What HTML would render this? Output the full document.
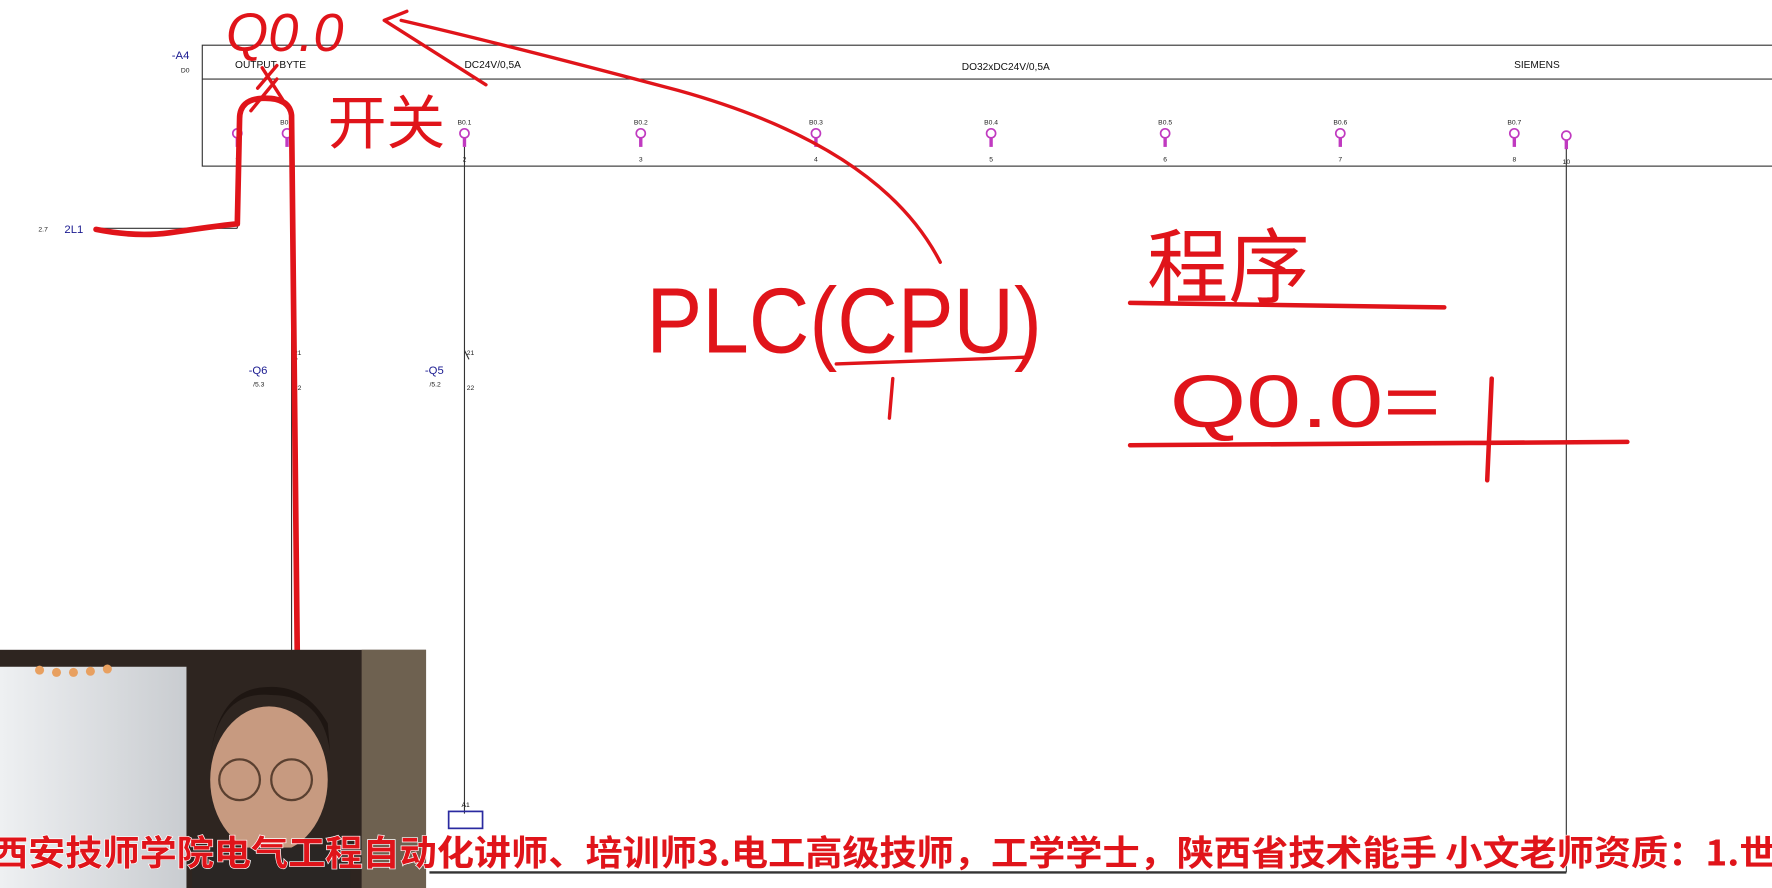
<!DOCTYPE html>
<html><head><meta charset="utf-8"><style>
html,body{margin:0;padding:0;background:#fff;overflow:hidden;width:1772px;height:888px}
#s{position:absolute;left:0;top:0;width:1568px;height:786px;transform:scale(1.1301);transform-origin:0 0}
svg{position:absolute;left:0;top:0}
</style></head><body><div id="s">
<svg width="1568" height="786" viewBox="0 0 1568 786" font-family="Liberation Sans, sans-serif">
<g stroke="#333" stroke-width="1" fill="none">
<rect x="179" y="40" width="1400" height="107"/>
<line x1="179" y1="70" x2="1568" y2="70"/>
<line x1="411" y1="130" x2="411" y2="720"/>
<line x1="1386" y1="130" x2="1386" y2="772"/>
<line x1="258" y1="130" x2="258" y2="720"/>
<line x1="85" y1="202" x2="210" y2="202"/>
<line x1="210" y1="130" x2="210" y2="202"/>
<line x1="380" y1="772" x2="1386" y2="772" stroke-width="2"/>
</g>
<rect x="397" y="718" width="30" height="15" fill="none" stroke="#2a2aa0" stroke-width="1.5"/>
<text x="412" y="714" font-size="6" text-anchor="middle">A1</text>
<g fill="#1a1a90" font-size="10"><text x="152" y="52">-A4</text><text x="57" y="206">2L1</text>
<text x="220" y="331">-Q6</text><text x="376" y="331">-Q5</text></g>
<g font-size="6" fill="#222"><text x="160" y="64">D0</text><text x="34" y="205">2.7</text>
<text x="224" y="342">/5.3</text><text x="380" y="342">/5.2</text>
<text x="413" y="314">21</text><text x="413" y="345">22</text>
<text x="260" y="314">21</text><text x="260" y="345">22</text></g>
<g font-size="9" fill="#111"><text x="208" y="60">OUTPUT BYTE</text><text x="411" y="60">DC24V/0,5A</text>
<text x="890" y="62" text-anchor="middle">DO32xDC24V/0,5A</text><text x="1360" y="60" text-anchor="middle">SIEMENS</text></g>
<g stroke="#333" fill="none"><path d="M258 310 l5 8 M411 310 l4 8"/></g>
<g font-size="6" fill="#222" text-anchor="middle">
<g transform="translate(210,0)"><circle cy="118" r="4" fill="none" stroke="#c03ac0" stroke-width="1.5"/><rect x="-1.5" y="122" width="3" height="8" fill="#c03ac0"/><text y="143">9</text></g>
<g transform="translate(254,0)"><circle cy="118" r="4" fill="none" stroke="#c03ac0" stroke-width="1.5"/><rect x="-1.5" y="122" width="3" height="8" fill="#c03ac0"/><text y="110">B0.0</text></g>
<g transform="translate(411,0)"><circle cy="118" r="4" fill="none" stroke="#c03ac0" stroke-width="1.5"/><rect x="-1.5" y="122" width="3" height="8" fill="#c03ac0"/><text y="110">B0.1</text><text y="143">2</text></g>
<g transform="translate(567,0)"><circle cy="118" r="4" fill="none" stroke="#c03ac0" stroke-width="1.5"/><rect x="-1.5" y="122" width="3" height="8" fill="#c03ac0"/><text y="110">B0.2</text><text y="143">3</text></g>
<g transform="translate(722,0)"><circle cy="118" r="4" fill="none" stroke="#c03ac0" stroke-width="1.5"/><rect x="-1.5" y="122" width="3" height="8" fill="#c03ac0"/><text y="110">B0.3</text><text y="143">4</text></g>
<g transform="translate(877,0)"><circle cy="118" r="4" fill="none" stroke="#c03ac0" stroke-width="1.5"/><rect x="-1.5" y="122" width="3" height="8" fill="#c03ac0"/><text y="110">B0.4</text><text y="143">5</text></g>
<g transform="translate(1031,0)"><circle cy="118" r="4" fill="none" stroke="#c03ac0" stroke-width="1.5"/><rect x="-1.5" y="122" width="3" height="8" fill="#c03ac0"/><text y="110">B0.5</text><text y="143">6</text></g>
<g transform="translate(1186,0)"><circle cy="118" r="4" fill="none" stroke="#c03ac0" stroke-width="1.5"/><rect x="-1.5" y="122" width="3" height="8" fill="#c03ac0"/><text y="110">B0.6</text><text y="143">7</text></g>
<g transform="translate(1340,0)"><circle cy="118" r="4" fill="none" stroke="#c03ac0" stroke-width="1.5"/><rect x="-1.5" y="122" width="3" height="8" fill="#c03ac0"/><text y="110">B0.7</text><text y="143">8</text></g>
<g transform="translate(1386,0)"><circle cy="120" r="4" fill="none" stroke="#c03ac0" stroke-width="1.5"/><rect x="-1.5" y="124" width="3" height="8" fill="#c03ac0"/><text y="145">10</text></g>
</g>
<g stroke="#e0141a" fill="none" stroke-linecap="round" stroke-linejoin="round">
<path d="M85 203 Q120 210 150 206 Q190 200 210 198 L212 105 Q212 88 232 87 Q256 86 258 102 L263 575" stroke-width="5"/>
<path d="M228 78 L245 58 M232 60 L250 88 M222 98 L245 70" stroke-width="3"/>
<path d="M832 232 Q780 130 600 80 Q450 40 355 18 M360 10 L340 18 L430 75" stroke-width="3"/>
<path d="M740 322 L910 316 M790 335 L787 370" stroke-width="3"/>
<path d="M1000 268 L1278 272" stroke-width="4"/>
<path d="M1000 394 L1440 391 M1320 335 L1316 425" stroke-width="4"/>
</g>
<g fill="#e0141a" font-family="Liberation Sans, 'WenQuanYi Zen Hei', sans-serif" font-weight="normal">
<text x="200" y="45" font-size="48" font-style="italic">Q0.0</text>
<text x="290" y="127" font-size="52">开关</text>
<text x="572" y="312" font-size="82" textLength="350" lengthAdjust="spacingAndGlyphs">PLC(CPU)</text>
<text x="1015" y="262" font-size="72">程序</text>
<text x="1035" y="378" font-size="66" textLength="240" lengthAdjust="spacingAndGlyphs">Q0.0=</text>
</g>
<defs><linearGradient id="w" x1="0" x2="1"><stop offset="0" stop-color="#eef0f2"/><stop offset="1" stop-color="#c9ccd0"/></linearGradient></defs>
<rect x="0" y="575" width="377" height="211" fill="#2e2520"/>
<rect x="320" y="575" width="57" height="211" fill="#6e6150"/>
<rect x="0" y="590" width="165" height="196" fill="url(#w)"/>
<ellipse cx="238" cy="690" rx="52" ry="65" fill="#c79a80"/>
<path d="M185 680 Q190 610 240 615 Q285 615 292 665 L290 640 Q270 605 235 608 Q190 610 185 680Z" fill="#1e1612"/>
<circle cx="212" cy="690" r="18" fill="none" stroke="#5a4030" stroke-width="2"/>
<circle cx="258" cy="690" r="18" fill="none" stroke="#5a4030" stroke-width="2"/>
<rect x="170" y="750" width="140" height="36" fill="#2a2624"/>
<g fill="#e8a060"><circle cx="35" cy="593" r="4"/><circle cx="50" cy="595" r="4"/><circle cx="65" cy="595" r="4"/><circle cx="80" cy="594" r="4"/><circle cx="95" cy="592" r="4"/></g>
<text x="-8" y="766" font-size="31" font-weight="bold" fill="#e0141a" stroke="#fff" stroke-width="1.2" paint-order="stroke" font-family="'Noto Sans CJK SC', 'WenQuanYi Zen Hei', sans-serif" textLength="1580" lengthAdjust="spacingAndGlyphs">西安技师学院电气工程自动化讲师、培训师3.电工高级技师，工学学士，陕西省技术能手  小文老师资质：1.世</text>
</svg>
</div></body></html>
